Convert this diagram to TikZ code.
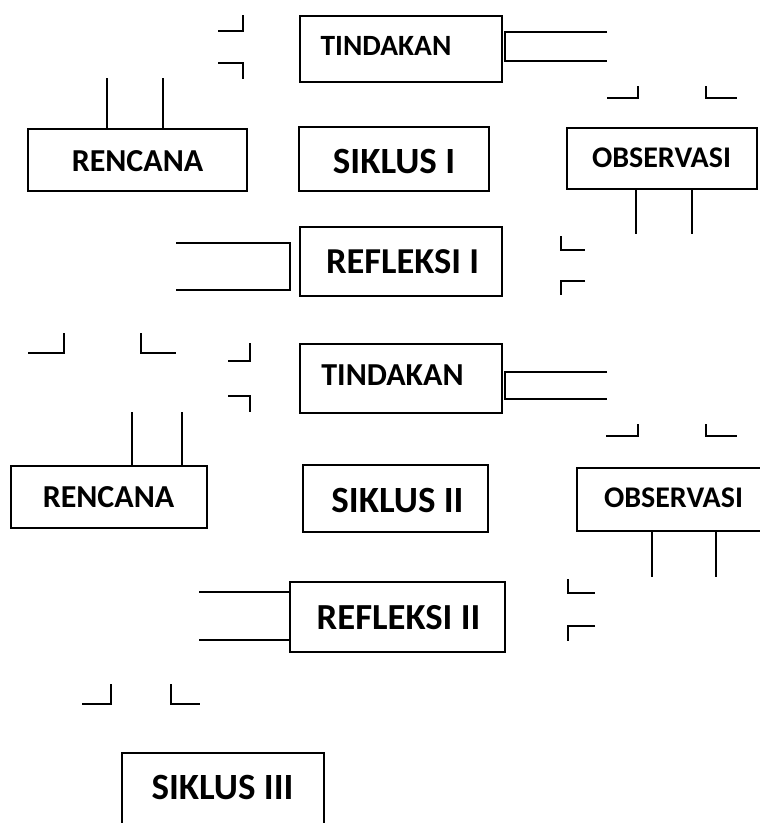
\documentclass[tikz,border=0pt]{standalone}
\usepackage{fontspec}
\setmainfont{Carlito}
\begin{document}
\begin{tikzpicture}[x=1pt,y=-1pt,
  box/.style={draw=black,line width=1.5pt,inner sep=0pt,outer sep=0pt},
  lbl/.style={anchor=base,inner sep=0pt,font=\bfseries},
  frag/.style={draw=black,line width=1.5pt}]
\clip (0,0) rectangle (760,823);
% boxes
\node[box,minimum width=202pt,minimum height=66pt] (tin1) at (401,49) {};
\node[box,minimum width=219pt,minimum height=62pt] (ren1) at (137.5,160) {};
\node[box,minimum width=190pt,minimum height=64pt] (sik1) at (394,159) {};
\node[box,minimum width=190pt,minimum height=61pt] (obs1) at (662,158.5) {};
\node[box,minimum width=202pt,minimum height=69pt] (ref1) at (401,261.5) {};
\node[box,minimum width=202pt,minimum height=69pt] (tin2) at (401,378.5) {};
\node[box,minimum width=196pt,minimum height=62pt] (ren2) at (109,497) {};
\node[box,minimum width=185pt,minimum height=67pt] (sik2) at (395.5,498.5) {};
\node[box,minimum width=185pt,minimum height=63pt] (obs2) at (669.5,499.5) {};
\node[box,minimum width=215pt,minimum height=70pt] (ref2) at (397.5,617) {};
\node[box,minimum width=202pt,minimum height=73pt] (sik3) at (223,789.5) {};
% labels
\node[lbl,font=\bfseries\fontsize{29.4}{31}\selectfont] (ttin1) at (386,55) {TINDAKAN};
\node[lbl,font=\bfseries\fontsize{32}{34}\selectfont] (tren1) at (137.5,171) {RENCANA};
\node[lbl,font=\bfseries\fontsize{37}{39}\selectfont] (tsik1) at (394,173) {SIKLUS I};
\node[lbl,font=\bfseries\fontsize{30}{32}\selectfont] (tobs1) at (661.5,167) {OBSERVASI};
\node[lbl,font=\bfseries\fontsize{36.5}{38}\selectfont] (tref1) at (402.5,273) {REFLEKSI I};
\node[lbl,font=\bfseries\fontsize{32}{34}\selectfont] (ttin2) at (392.5,385) {TINDAKAN};
\node[lbl,font=\bfseries\fontsize{32}{34}\selectfont] (tren2) at (108.5,507) {RENCANA};
\node[lbl,font=\bfseries\fontsize{37}{39}\selectfont] (tsik2) at (397.5,512) {SIKLUS II};
\node[lbl,font=\bfseries\fontsize{30}{32}\selectfont] (tobs2) at (673.5,507) {OBSERVASI};
\node[lbl,font=\bfseries\fontsize{36.7}{38}\selectfont] (tref2) at (398.5,629) {REFLEKSI II};
\node[lbl,font=\bfseries\fontsize{37}{39}\selectfont] (tsik3) at (222.5,799) {SIKLUS III};
% broken arrow fragments
\draw[frag] (218,31)--(243,31)--(243,15);
\draw[frag] (218,63)--(243,63)--(243,79);
\draw[frag] (607,32)--(505,32)--(505,61)--(607,61);
\draw[frag] (107,78)--(107,129);
\draw[frag] (163,78)--(163,129);
\draw[frag] (607,98)--(638,98)--(638,86);
\draw[frag] (706,86)--(706,98)--(737,98);
\draw[frag] (636,189)--(636,234);
\draw[frag] (692,189)--(692,234);
\draw[frag] (561,236)--(561,250)--(585,250);
\draw[frag] (585,281)--(561,281)--(561,295);
\draw[frag] (176,243)--(290,243)--(290,290)--(176,290);
\draw[frag] (28,353)--(64,353)--(64,333);
\draw[frag] (141,333)--(141,353)--(176,353);
\draw[frag] (228,361)--(250,361)--(250,343);
\draw[frag] (228,396)--(250,396)--(250,412);
\draw[frag] (607,372)--(505,372)--(505,399)--(607,399);
\draw[frag] (132,412)--(132,466);
\draw[frag] (182,412)--(182,466);
\draw[frag] (606,436)--(638,436)--(638,424);
\draw[frag] (706,424)--(706,436)--(737,436);
\draw[frag] (652,531)--(652,577);
\draw[frag] (716,531)--(716,577);
\draw[frag] (568,579)--(568,593)--(595,593);
\draw[frag] (595,626)--(568,626)--(568,641);
\draw[frag] (199,592)--(290,592);
\draw[frag] (199,640)--(290,640);
\draw[frag] (82,704)--(111,704)--(111,684);
\draw[frag] (171,684)--(171,704)--(200,704);
\end{tikzpicture}
\end{document}
